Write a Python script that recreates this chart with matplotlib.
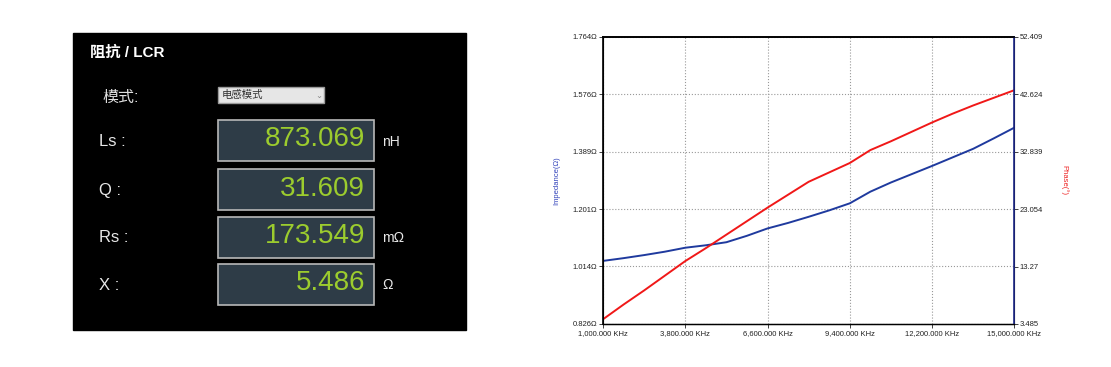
import numpy as np
import matplotlib
matplotlib.use("Agg")
import matplotlib.pyplot as plt
import matplotlib.patches as mpatches

plt.rcParams['font.family'] = ['Liberation Sans', 'Noto Sans CJK SC', 'DejaVu Sans']

# LCR readout panel
panel_title = "阻抗 / LCR"
mode_label = "模式:"
mode_value = "电感模式"
meas_names = ["Ls :", "Q :", "Rs :", "X :"]
meas_values = ["873.069", "31.609", "173.549", "5.486"]
meas_units = ["nH", "", "mΩ", "Ω"]

# sweep data (KHz)
freq_khz = [1000, 1700, 2400, 3100, 3800, 4500, 5200, 5900, 6600, 7300, 8000,
            8700, 9400, 10100, 10800, 11500, 12200, 12900, 13600, 14300, 15000]
impedance = [1.032, 1.041, 1.051, 1.062, 1.075, 1.083, 1.093, 1.114, 1.138, 1.156, 1.176,
             1.197, 1.220, 1.258, 1.288, 1.315, 1.342, 1.370, 1.398, 1.432, 1.467]
phase = [4.29, 6.8, 9.2, 11.7, 14.2, 16.4, 18.7, 21.0, 23.3, 25.5, 27.7,
         29.3, 30.9, 33.1, 34.6, 36.2, 37.8, 39.3, 40.7, 42.0, 43.3]

x_ticks = [1000, 3800, 6600, 9400, 12200, 15000]
z_ticks = [0.826, 1.014, 1.201, 1.389, 1.576, 1.764]
z_labels = ["0.826Ω", "1.014Ω", "1.201Ω", "1.389Ω", "1.576Ω", "1.764Ω"]
p_ticks = [3.485, 13.27, 23.054, 32.839, 42.624, 52.409]
p_labels = ["3.485", "13.27", "23.054", "32.839", "42.624", "52.409"]

W, H = 1111, 367
fig = plt.figure(figsize=(W / 100, H / 100), dpi=100)

# --- left panel (pixel coordinates) ---
bg = fig.add_axes([0, 0, 1, 1])
bg.set_xlim(0, W)
bg.set_ylim(H, 0)
bg.axis('off')
bg.add_patch(mpatches.Rectangle((73, 33), 393, 297, color='black'))
bg.text(90, 53, panel_title, color='white', fontsize=11, fontweight='bold',
        va='center', ha='left')
bg.text(102, 97, mode_label, color='#e0e0e0', fontsize=11.5, va='center', ha='left')
bg.add_patch(mpatches.Rectangle((218, 87), 106, 16, facecolor='#e6e6e6',
                                edgecolor='#9a9a9a', linewidth=1))
bg.text(222, 95, mode_value, color='#333333', fontsize=7.5, va='center', ha='left')
bg.text(319, 95, "⌄", color='#888888', fontsize=6, va='center', ha='center',
        family=['DejaVu Sans'])

box_tops = [120, 169, 216.5, 263.5]
box_h = 41
for top, name, val, unit in zip(box_tops, meas_names, meas_values, meas_units):
    cy = top + box_h / 2
    bg.add_patch(mpatches.Rectangle((218, top), 156, box_h, facecolor='#2e3c47',
                                    edgecolor='#b8b8b8', linewidth=1.2))
    bg.text(99, cy + 1, name, color='#e8e8e8', fontsize=12, va='center', ha='left')
    bg.text(365, cy - 1, val, color='#9ccc2e', fontsize=20, va='center', ha='right')
    if unit:
        bg.text(382, cy + 1, unit, color='#e8e8e8', fontsize=10, va='center', ha='left')

# --- sweep chart ---
left, right, top, bottom = 603, 1014.3, 36.7, 324
ax = fig.add_axes([left / W, 1 - bottom / H, (right - left) / W, (bottom - top) / H])
ax2 = ax.twinx()

ax.plot(freq_khz, impedance, color='#1f3a9e', linewidth=1.4)
ax2.plot(freq_khz, phase, color='#f01818', linewidth=1.4)

ax.set_xlim(1000, 15000)
ax.set_ylim(0.826, 1.764)
ax2.set_ylim(3.485, 52.409)

ax.set_xticks(x_ticks)
ax.set_xticklabels([f"{v:,.3f} KHz" for v in x_ticks])
ax.set_yticks(z_ticks)
ax.set_yticklabels(z_labels)
ax2.set_yticks(p_ticks)
ax2.set_yticklabels(p_labels)

ax.grid(True, color='#999999', linestyle=':', linewidth=0.8)
ax.tick_params(labelsize=5.5, length=3, width=0.6, pad=1, colors='#222222')
ax2.tick_params(labelsize=5.5, length=3, width=0.6, pad=1, colors='#222222')

for s in ['left', 'top', 'bottom']:
    ax.spines[s].set_color('black')
ax.spines['left'].set_linewidth(1.2)
ax.spines['top'].set_linewidth(1.2)
ax.spines['bottom'].set_linewidth(1.0)
ax2.spines['right'].set_color('#1f2a8a')
ax2.spines['right'].set_linewidth(1.2)
ax2.spines['top'].set_linewidth(1.2)

ax.set_ylabel("Impedance(Ω)", color='#3344bb', fontsize=5.5, labelpad=9)
ax2.set_ylabel("Phase(°)", color='#ee2222', fontsize=5.5, rotation=-90, labelpad=18)

fig.savefig("out.png", dpi=100, facecolor='white')
